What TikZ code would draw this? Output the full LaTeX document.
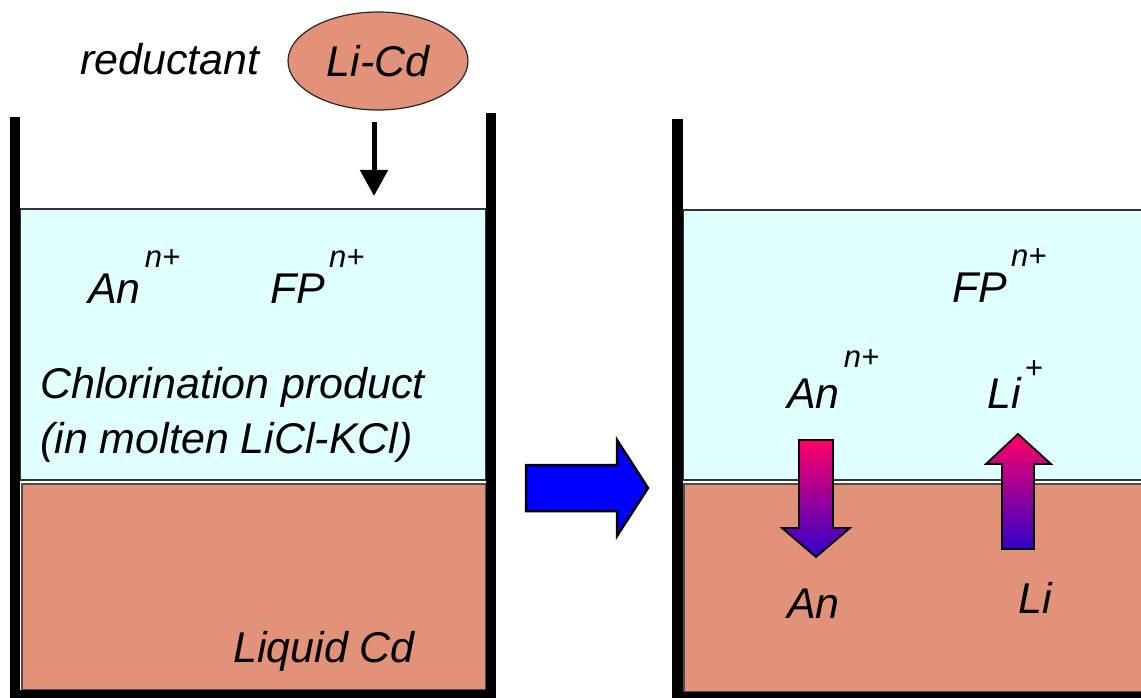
\documentclass[tikz,border=0pt]{standalone}
\usepackage{fontspec}
\setmainfont{Liberation Sans}
\usetikzlibrary{arrows.meta, shapes.geometric}
\definecolor{saltcyan}{RGB}{224,255,255}
\definecolor{cdsalmon}{RGB}{227,146,122}
\definecolor{arrowpink}{RGB}{255,0,102}
\definecolor{arrowblue}{RGB}{51,0,204}
\newcommand{\ionlabel}[3][36pt]{#2\hspace{4pt}\raisebox{#1}{\fontsize{31}{31}\selectfont #3}}

\begin{document}
\begin{tikzpicture}[x=1pt, y=-1pt,
  every node/.style={font=\fontsize{43}{55}\selectfont\itshape, inner sep=0pt},
  txt/.style={anchor=base west},
  wall/.style={fill=black},
  salt/.style={fill=saltcyan, draw=black!80, line width=1.5pt},
  cd/.style={fill=cdsalmon, draw=black!70, line width=1.2pt},
  flux/.style={top color=arrowpink, bottom color=arrowblue, draw=black, line width=1.8pt, line join=miter}]
\useasboundingbox (0,0) rectangle (1141,698);

% left vessel
\path[salt] (20,209) rectangle (486,480);
\path[cd] (22,484) rectangle (486,690);
\fill[wall] (10,117) rectangle (20,698);
\fill[wall] (486,113) rectangle (496,698);
\fill[wall] (10,690) rectangle (496,698);

% right vessel
\path[salt] (683,210) rectangle (1150,480);
\path[cd] (684,484) rectangle (1150,692);
\fill[wall] (672,119) rectangle (683,698);
\fill[wall] (672,692) rectangle (1150,698);

% reductant
\node[txt] (reductant) at (80,75) {reductant};
\node[ellipse, fill=cdsalmon, draw=black!85, line width=1.2pt, minimum width=180pt, minimum height=98pt] (licd) at (378,61) {Li-Cd};
\coordinate (surface) at (374,196);
\draw[line width=5pt, shorten <=11pt, -{Triangle[width=27pt,length=26pt]}] (licd.south -| surface) -- (surface);

% left labels
\node[txt] (anL) at (88,303) {\ionlabel{An}{n+}};
\node[txt] (fpL) at (270,303) {\ionlabel{FP}{n+}};
\node[txt, align=left] (chlor) at (40,453) {Chlorination product\\(in molten LiCl-KCl)};
\node[txt] (cdL) at (233,662) {Liquid Cd};

% process arrow
\draw[fill=blue, line width=2.5pt, line join=miter] (526,465) -- (617,465) -- (617,440) -- (648,488) -- (617,536) -- (617,511) -- (526,511) -- cycle;

% right labels
\node[txt] (fpR) at (952,302) {\ionlabel{FP}{n+}};
\node[txt] (anR) at (787,408) {\ionlabel[41pt]{An}{n+}};
\node[txt] (liR) at (987,408) {\ionlabel[30pt]{Li}{+}};
\node[txt] (anM) at (787,618) {An};
\node[txt] (liM) at (1018,613) {Li};

% exchange arrows
\shadedraw[flux] (799,440) -- (833,440) -- (833,528) -- (850,528) -- (816,557) -- (782,528) -- (799,528) -- cycle;
\shadedraw[flux] (1002,549) -- (1034,549) -- (1034,464) -- (1051,464) -- (1018,434) -- (986,464) -- (1002,464) -- cycle;
\end{tikzpicture}
\end{document}
